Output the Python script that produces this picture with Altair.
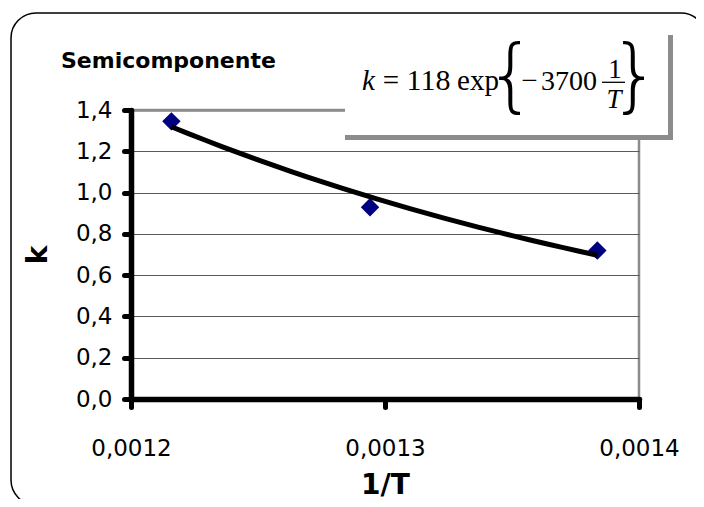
import altair as alt
import pandas as pd

# ---- data ----
inv_T = [0.0012159, 0.0012941, 0.0013836]
k_vals = [1.345, 0.929, 0.719]
x_ticks = [0.0012, 0.0013, 0.0014]
y_ticks = [0.0, 0.2, 0.4, 0.6, 0.8, 1.0, 1.2, 1.4]
chart_title = "Semicomponente"
x_title = "1/T"
y_title = "k"

df = pd.DataFrame({"invT": inv_T, "k": k_vals})
one = pd.DataFrame({"d": [0]})

SANS = "DejaVu Sans"
SERIF = "Liberation Serif"

x_enc = alt.X(
    "invT:Q",
    scale=alt.Scale(domain=[x_ticks[0], x_ticks[-1]], nice=False, zero=False),
    axis=alt.Axis(
        values=x_ticks,
        labelExpr="replace(format(datum.value, '.4f'), '.', ',')",
        title=x_title, grid=False, tickSize=8, labelPadding=30, titlePadding=11,
        labelFlush=False,
    ),
)
y_enc = alt.Y(
    "k:Q",
    scale=alt.Scale(domain=[y_ticks[0], y_ticks[-1]], nice=False),
    axis=alt.Axis(
        values=y_ticks,
        labelExpr="replace(format(datum.value, '.1f'), '.', ',')",
        title=y_title, grid=True, tickSize=7, labelPadding=12, titlePadding=23,
        labelFlush=False,
        gridColor={"condition": {"test": "datum.value > 1.39", "value": "#8c8c8c"}, "value": "#5a5a5a"},
        gridWidth={"condition": {"test": "datum.value > 1.39", "value": 2.5}, "value": 1},
    ),
)


def txt(s, x, y, size, font=SERIF, style="normal", weight="normal", align="center"):
    return alt.Chart(one).mark_text(
        text=s, font=font, fontSize=size, fontStyle=style, fontWeight=weight,
        align=align, baseline="alphabetic", color="black",
    ).encode(x=alt.value(x), y=alt.value(y))


border = alt.Chart(one).mark_rect(
    cornerRadius=25, fill="white", fillOpacity=0, stroke="black", strokeWidth=1.5
).encode(x=alt.value(-120), x2=alt.value(575), y=alt.value(-97), y2=alt.value(395))

eq_shadow = alt.Chart(one).mark_rect(color="#8c8c8c").encode(
    x=alt.value(214), x2=alt.value(542), y=alt.value(-75), y2=alt.value(30))
eq_box = alt.Chart(one).mark_rect(color="white").encode(
    x=alt.value(214), x2=alt.value(537), y=alt.value(-75), y2=alt.value(25))

eq_parts = [
    txt("k", 231, -20, 29, style="italic", align="left"),
    txt("=", 260, -20, 29),
    txt("118", 297.5, -20, 30),
    txt("exp", 347, -20, 29),
    txt("{", 380, -8, 80, font="DejaVu Sans", weight=200),
    txt("\u2212", 398.5, -20, 29),
    txt("3700", 438, -20, 28),
    txt("1", 484, -32, 27),
    txt("T", 483, -2, 27, style="italic"),
    txt("}", 504, -8, 80, font="DejaVu Sans", weight=200),
]
frac_bar = alt.Chart(one).mark_rule(color="black", strokeWidth=1.3).encode(
    x=alt.value(471), x2=alt.value(494), y=alt.value(-27.7))

title = txt(chart_title, -70, -42, 22, font=SANS, weight="bold", align="left")

points = alt.Chart(df).mark_point(
    shape="diamond", filled=True, size=340, color="#000080", opacity=1, strokeWidth=0
).encode(x=x_enc, y=y_enc)

curve = alt.Chart(df).transform_regression(
    "invT", "k", method="exp"
).mark_line(color="black", strokeWidth=5).encode(x=x_enc, y=y_enc)

chart = alt.layer(
    border, eq_shadow, eq_box, *eq_parts, frac_bar, title, points, curve
).properties(
    width=508, height=289, autosize="none",
    padding={"left": 123, "top": 102, "right": 57, "bottom": 100},
    background="white",
).configure_view(
    stroke="#8c8c8c", strokeWidth=2.5
).configure_axis(
    domainColor="black", domainWidth=5.5, domainCap="round",
    tickColor="black", tickWidth=5, tickCap="round",
    labelFont=SANS, labelFontSize=23, labelColor="black",
    titleFont=SANS, titleFontSize=28, titleFontWeight="bold", titleColor="black",
)

chart.save("out.html", embed_options={"renderer": "svg", "actions": False})
